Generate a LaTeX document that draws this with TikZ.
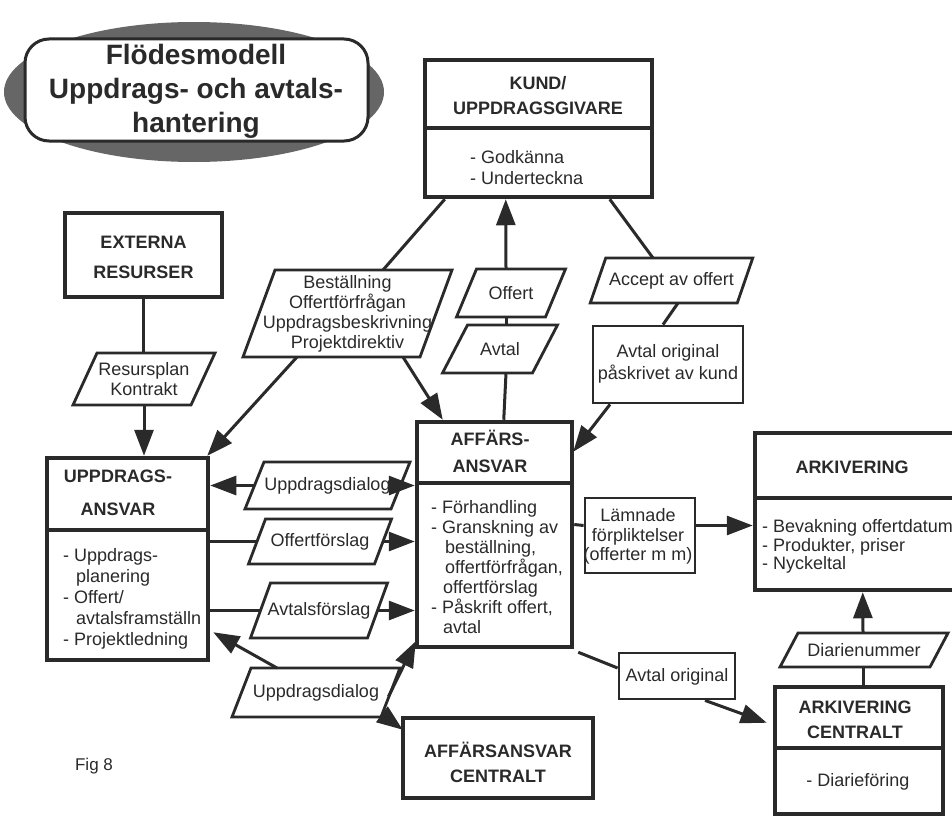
\documentclass[tikz,border=0pt]{standalone}
\usepackage{fontspec}
\setmainfont{Liberation Sans}
\usetikzlibrary{arrows.meta,calc}

\definecolor{ink}{HTML}{2A2A2A}
\definecolor{halftone}{HTML}{666666}

% parallelogram label: name, centre x, centre y, side length, height, slant, text
\newcommand{\plgram}[7]{%
  \filldraw[para] ({#2-#4/2-#6/2},{#3+#5/2}) -- ({#2+#4/2-#6/2},{#3+#5/2})
     -- ({#2+#4/2+#6/2},{#3-#5/2}) -- ({#2-#4/2+#6/2},{#3-#5/2}) -- cycle;
  \node[ptxt, minimum width=#4pt, minimum height=#5pt] (#1) at (#2,#3) {#7};
}

\begin{document}
\begin{tikzpicture}[x=1pt, y=-1pt,
  box/.style={draw=ink, line width=4.5pt, fill=white, inner sep=0pt},
  thinbox/.style={draw=ink, line width=2.8pt, fill=white, inner sep=0pt},
  divider/.style={draw=ink, line width=4pt},
  para/.style={draw=ink, fill=white, line width=2.8pt, line join=miter},
  txt/.style={text=ink, font=\fontsize{18}{20}\selectfont, inner sep=0pt},
  ptxt/.style={txt, align=center, outer sep=0pt},
  head/.style={text=ink, font=\bfseries\fontsize{18}{25}\selectfont, align=center, inner sep=0pt},
  listing/.style={text=ink, font=\fontsize{18}{20}\selectfont, align=left, anchor=north west, inner sep=0pt},
  link/.style={draw=ink, line width=3pt},
  arr/.style={link, -{Triangle[length=26pt, width=19pt]}}
]
\useasboundingbox (0,0) rectangle (952,816);
\fill[white] (0,0) rectangle (952,816);

% ---- title plate ----
\fill[halftone] (194,92) ellipse [x radius=190, y radius=70];
\node[draw=ink, line width=3pt, fill=white, rounded corners=24pt,
      minimum width=343pt, minimum height=102pt, inner sep=0pt] (titlebox) at (196.5,90) {};
\node[text=ink, font=\bfseries\fontsize{28}{34}\selectfont, align=center, inner sep=0pt]
      (title) at (196,91) {Flödesmodell\\Uppdrags- och avtals-\\hantering};

% ---- customer ----
\node[box, minimum width=227pt, minimum height=137pt] (kund) at (538.5,128.5) {};
\draw[divider] (425,128) -- (652,128);
\node[head] (kundh) at (538,96) {KUND/\\UPPDRAGSGIVARE};
\node[listing, font=\fontsize{18}{21}\selectfont] (kundl) at (470,149) {\strut- Godkänna\\- Underteckna};

% ---- external resources ----
\node[box, minimum width=157pt, minimum height=84pt] (externa) at (143.5,255) {};
\node[head, font=\bfseries\fontsize{18}{30}\selectfont] (externah) at (143.5,257) {EXTERNA\\RESURSER};

% ---- assignment responsibility ----
\node[box, minimum width=161pt, minimum height=202pt] (uppdr) at (127.5,559) {};
\draw[divider] (47,530) -- (208,530);
\node[head, font=\bfseries\fontsize{18}{33}\selectfont] (uppdrh) at (118,493) {UPPDRAGS-\\ANSVAR};
\node[listing, font=\fontsize{18}{21}\selectfont] (uppdrl) at (63,547)
  {\strut- Uppdrags-\\\hspace*{13pt}planering\\- Offert/\\\hspace*{13pt}avtalsframställn\\- Projektledning};

% ---- business responsibility ----
\node[box, minimum width=155pt, minimum height=225pt] (affars) at (494.5,534.5) {};
\draw[divider] (417,483) -- (572,483);
\node[head, font=\bfseries\fontsize{18}{27}\selectfont] (affarsh) at (490,451.5) {AFFÄRS-\\ANSVAR};
\node[listing] (affarsl) at (431,499)
  {\strut- Förhandling\\- Granskning av\\\hspace*{14pt}beställning,\\\hspace*{14pt}offertförfrågan,\\\hspace*{12pt}offertförslag\\- Påskrift offert,\\\hspace*{12pt}avtal};

% ---- archive ----
\node[box, minimum width=207pt, minimum height=157pt] (ark) at (858.5,511.5) {};
\draw[divider] (755,498) -- (962,498);
\node[head] (arkh) at (852,467) {ARKIVERING};
\node[listing, font=\fontsize{18}{18}\selectfont] (arkl) at (762,519)
  {\strut- Bevakning offertdatum\\- Produkter, priser\\- Nyckeltal};

% ---- document boxes ----
\node[thinbox, minimum width=110pt, minimum height=75pt] (lamn) at (640,535.5) {};
\node[txt, align=center, font=\fontsize{18}{19.5}\selectfont] (lamnt) at (638,536.5)
  {Lämnade\\förpliktelser\\(offerter m m)};
\node[thinbox, minimum width=150pt, minimum height=77pt] (avtorig1) at (668,364.5) {};
\node[txt, align=center, font=\fontsize{18}{22}\selectfont] (avtorig1t) at (668,364)
  {Avtal original\\påskrivet av kund};
\node[thinbox, minimum width=116pt, minimum height=46pt] (avtorig2) at (677,676) {};
\node[txt] (avtorig2t) at (677,677) {Avtal original};

% ---- central units ----
\node[box, minimum width=168pt, minimum height=127pt] (arkc) at (859,750.5) {};
\draw[divider] (775,748) -- (943,748);
\node[head] (arkch) at (855,719.5) {ARKIVERING\\CENTRALT};
\node[txt] (arkcl) at (858,782) {- Diarieföring};
\node[box, minimum width=190pt, minimum height=80pt] (centr) at (498,758) {};
\node[head] (centrh) at (498,762.5) {AFFÄRSANSVAR\\CENTRALT};

% ---- flow labels ----
\plgram{bestall}{347.5}{313.5}{177}{87}{32}{\fontsize{18}{20.5}\selectfont Beställning\\Offertförfrågan\\Uppdragsbeskrivning\\Projektdirektiv}
\plgram{resurs}{144}{379}{118}{52}{24}{\fontsize{18}{18}\selectfont Resursplan\\Kontrakt}
\plgram{offert}{511}{293}{89}{48}{20}{Offert}
\plgram{avtal}{500}{349}{90}{48}{25}{Avtal}
\plgram{accept}{671.5}{280.5}{147}{45}{15.5}{Accept av offert}
\plgram{dialog1}{327.5}{485.5}{146}{47}{19}{Uppdragsdialog}
\plgram{offertf}{320}{541.5}{126}{45}{17}{Offertförslag}
\plgram{avtalsf}{319}{610.5}{117}{55}{20}{Avtalsförslag}
\plgram{dialog2}{316}{692.5}{149}{49}{19}{Uppdragsdialog}
\plgram{diar}{864}{650}{150}{34}{18}{Diarienummer}

\node[txt, font=\fontsize{17}{19}\selectfont] (fig) at (94,766) {Fig 8};

% ---- connectors ----
\draw[link] ($(kund.south west)+(22,0)$) -- ($(bestall.north)+(35.5,0)$);
\draw[link] ($(affars.north west)+(89,0)$) -- ($(avtal.south)+(6,0)$);
\draw[link] ($(avtal.north)+(6,0)$) -- ($(offert.south)+(-5,0)$);
\draw[arr] ($(offert.north)+(-5,0)$) -- ($(kund.south west)+(83,0)$);
\draw[link] ($(kund.south west)+(187,0)$) -- ($(accept.north)+(-18.5,0)$);
\draw[link] ($(accept.south)+(6.5,0)$) -- ($(avtorig1.north)+(-5,0)$);
\draw[arr] ($(avtorig1.south)+(-58,0)$) -- ($(affars.north east)+(-1,32)$);
\draw[arr] ($(bestall.south)+(-50.5,0)$) -- ($(uppdr.north east)+(-3,0)$);
\draw[arr] ($(bestall.south)+(55.5,0)$) -- ($(affars.north west)+(28,0)$);
\draw[link] (externa.south) -- (externa.south |- resurs.north);
\draw[arr] (resurs.south) -- (resurs.south |- uppdr.north);

\draw[arr] (dialog1.west) -- (dialog1.west -| uppdr.east);
\draw[arr] (dialog1.east) -- (dialog1.east -| affars.west);
\draw[link] (offertf.west -| uppdr.east) -- (offertf.west);
\draw[arr] (offertf.east) -- (offertf.east -| affars.west);
\draw[link] (avtalsf.west -| uppdr.east) -- (avtalsf.west);
\draw[arr] (avtalsf.east) -- (avtalsf.east -| affars.west);

\draw[arr] ($(dialog2.north west)+(35.5,0)$) -- ($(uppdr.south east)+(3,-30)$);
\draw[arr] ($(dialog2.east)+(-2,4)$) -- ($(affars.south west)+(1,-8)$);
\draw[arr] ($(dialog2.south east)+(-9,-3)$) -- ($(centr.north west)+(2,14)$);

\draw[link] ($(affars.south east)+(4,3)$) -- ($(avtorig2.west)+(0,-8)$);
\draw[arr] ($(avtorig2.south)+(28,0)$) -- ($(arkc.north west)+(-6,38)$);
\draw[link] ($(arkc.north)+(4,0)$) -- ($(diar.south)+(-1,0)$);
\draw[arr] ($(diar.north)+(-1,0)$) -- ($(ark.south west)+(110,0)$);

\draw[link] ($(affars.east)+(0,-10)$) -- ($(lamn.west)+(0,-10)$);
\draw[arr] ($(lamn.east)+(0,-10)$) -- ($(ark.west)+(0,14)$);
\end{tikzpicture}
\end{document}
